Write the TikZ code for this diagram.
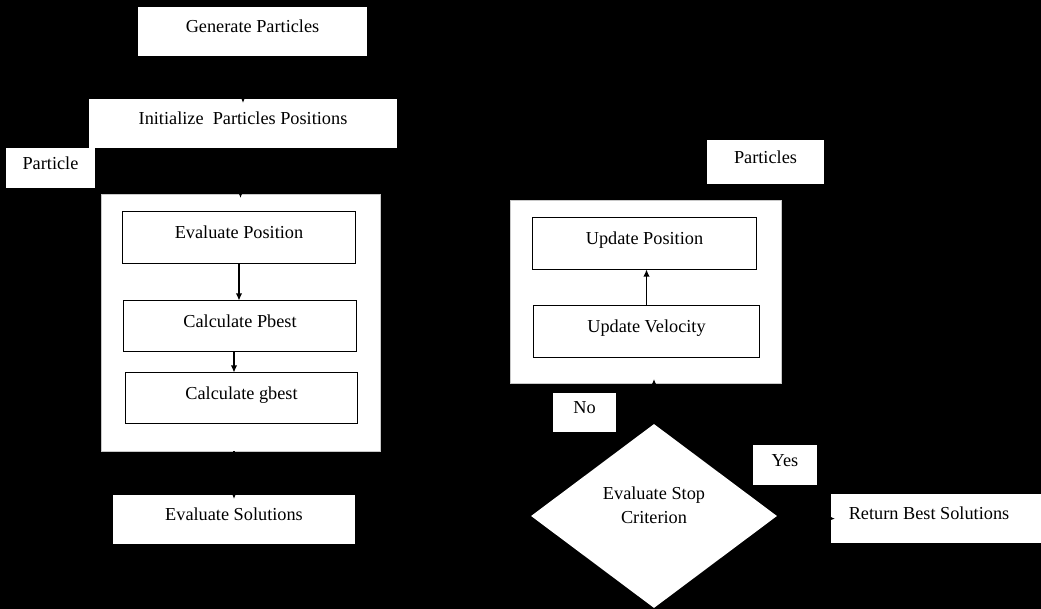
\documentclass[tikz,border=0pt]{standalone}
\usepackage{fontspec}
\setmainfont{Liberation Serif}
\usetikzlibrary{shapes.geometric,arrows.meta}
\definecolor{bg}{HTML}{000000}
\definecolor{boxfill}{HTML}{FFFFFF}
\definecolor{rim}{HTML}{C8C8C8}
\definecolor{ink}{HTML}{000000}
\tikzset{
  lab/.style={font=\fontsize{13}{17}\selectfont, text=ink, text height=9pt, text depth=7pt, inner sep=0pt},
  plainbox/.style={lab, fill=boxfill, draw=none},
  stepbox/.style={lab, fill=boxfill, draw=ink, line width=0.7pt},
  groupbox/.style={fill=boxfill, draw=rim, line width=0.4pt, inner sep=0pt},
  decision/.style={diamond, lab, fill=boxfill, draw=none, align=center, text height=17.6pt, text depth=7pt},
  flow/.style={draw=ink, line width=0.8pt, -{Latex[length=5pt,width=4.5pt]}},
  link/.style={flow, shorten >=-3pt}
}
\begin{document}
\begin{tikzpicture}[x=0.025cm, y=-0.025cm]
  \useasboundingbox (0,0) rectangle (1041,609);
  \fill[bg] (0,0) rectangle (1041,609);

  % left column
  \node[plainbox, minimum width=5.725cm, minimum height=1.225cm] (gen) at (252.5,31.5) {Generate Particles};
  \node[plainbox, minimum width=7.7cm, minimum height=1.225cm] (init) at (243,123.5) {Initialize\ \ Particles Positions};
  \node[plainbox, minimum width=2.225cm, minimum height=1.0cm] (particle) at (50.5,168) {Particle};

  \node[groupbox, minimum width=6.975cm, minimum height=6.425cm] (outerL) at (240.5,322.5) {};
  \node[stepbox, minimum width=5.8cm, minimum height=1.275cm] (evalpos) at (239,237.5) {Evaluate Position};
  \node[stepbox, minimum width=5.8cm, minimum height=1.25cm] (pbest) at (240,326) {Calculate Pbest};
  \node[stepbox, minimum width=5.775cm, minimum height=1.25cm] (gbest) at (241.5,398) {Calculate gbest};

  \node[plainbox, minimum width=6.05cm, minimum height=1.225cm] (evalsol) at (234,519.5) {Evaluate Solutions};

  % right column
  \node[plainbox, minimum width=2.925cm, minimum height=1.1cm] (particles) at (765.5,162) {Particles};
  \node[groupbox, minimum width=6.775cm, minimum height=4.575cm] (outerR) at (645.5,291.5) {};
  \node[stepbox, minimum width=5.575cm, minimum height=1.275cm] (updpos) at (644.5,243.5) {Update Position};
  \node[stepbox, minimum width=5.625cm, minimum height=1.275cm] (updvel) at (646.5,331.5) {Update Velocity};

  \node[plainbox, minimum width=1.575cm, minimum height=0.975cm] (no) at (584.5,412.5) {No};
  \node[decision, minimum width=6.15cm, minimum height=4.6cm] (stop) at (654,516) {Evaluate Stop\\Criterion};
  \node[plainbox, minimum width=1.6cm, minimum height=1.0cm] (yes) at (785,465) {Yes};
  \node[plainbox, minimum width=5.25cm, minimum height=1.225cm] (ret) at (936,518.5) {Return Best Solutions\kern0.35cm\relax};

  % connectors
  \draw[link] (init.north |- gen.south) -- (init.north);
  \draw[link] (outerL.north |- init.south) -- (outerL.north);
  \draw[flow] (evalpos.south) -- (evalpos.south |- pbest.north);
  \draw[flow] ([xshift=-0.15cm]pbest.south) -- ([xshift=-0.15cm]pbest.south |- gbest.north);
  \draw[link] (evalsol.north |- outerL.south) -- (evalsol.north);
  \draw[flow] (evalsol.east) -- (stop.west);
  \draw[link] (stop.north) -- (stop.north |- outerR.south);
  \draw[flow] (updvel.north) -- (updvel.north |- updpos.south);
  \draw[link] (stop.east) -- (ret.west);
\end{tikzpicture}
\end{document}
